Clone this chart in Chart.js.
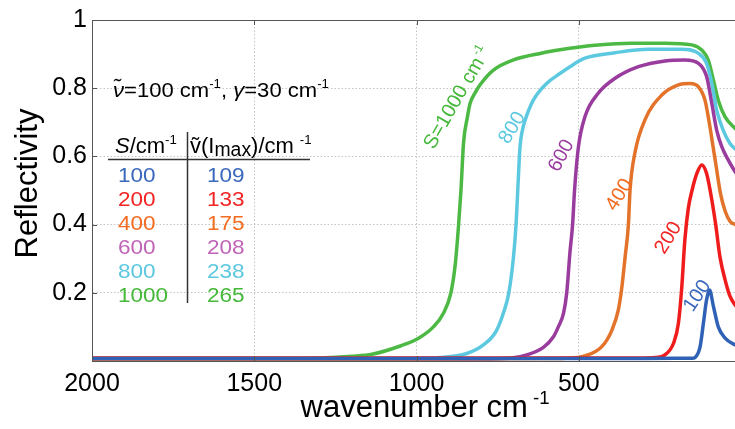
<!DOCTYPE html>
<html><head><meta charset="utf-8">
<script src="https://cdn.jsdelivr.net/npm/chart.js@4.4.0/dist/chart.umd.min.js"></script>
<style>
html,body{margin:0;padding:0;overflow:hidden;background:#fff;width:735px;height:429px;}
#wrap{position:relative;width:760px;height:429px;}
canvas{display:block;}
</style></head>
<body><div id="wrap"><canvas id="c" width="760" height="429"></canvas></div>
<script>
// ---- data ----
const xTicks = [2000, 1500, 1000, 500];
const yTicks = [0.2, 0.4, 0.6, 0.8, 1];
const strengths = ['100', '200', '400', '600', '800', '1000'];
const peakPositions = ['109', '133', '175', '208', '238', '265'];

const wn100 = [2000,1000,400,200,150,142,126,116,106,97,85,70,49,18,5];
const r100  = [0.007,0.007,0.007,0.008,0.008,0.01,0.042,0.11,0.18,0.208,0.16,0.10,0.067,0.047,0.042];

const wn200 = [2000,1000,400,300,265,234,208,193,183,173,162,151,136,121,106,95,78,65,49,34,18,5];
const r200  = [0.009,0.009,0.009,0.009,0.01,0.018,0.052,0.11,0.21,0.355,0.45,0.50,0.55,0.575,0.55,0.50,0.40,0.306,0.238,0.19,0.164,0.15];

const wn400 = [2000,1000,600,542,481,429,398,378,368,357,347,342,327,296,244,193,157,131,111,98,88,78,63,49,34,18,5];
const r400  = [0.006,0.006,0.007,0.008,0.015,0.042,0.09,0.15,0.21,0.306,0.40,0.50,0.61,0.707,0.78,0.81,0.814,0.804,0.765,0.70,0.64,0.58,0.49,0.44,0.41,0.40,0.395];

const wn600 = [2000,800,712,660,609,578,563,547,537,527,519,513,501,481,440,388,316,234,173,131,106,90,75,59,39,18,5];
const r600  = [0.006,0.006,0.008,0.018,0.04,0.071,0.10,0.14,0.20,0.32,0.40,0.50,0.628,0.716,0.785,0.829,0.863,0.88,0.883,0.873,0.834,0.756,0.677,0.628,0.589,0.555,0.54];

const wn800 = [2000,1100,1000,927,845,794,753,729,716,701,693,688,681,674,665,640,599,558,527,481,388,286,183,131,106,90,75,55,34,18,5];
const r800  = [0.007,0.007,0.008,0.01,0.022,0.047,0.09,0.15,0.197,0.306,0.404,0.50,0.628,0.675,0.707,0.765,0.814,0.843,0.863,0.888,0.904,0.914,0.914,0.902,0.873,0.814,0.736,0.677,0.638,0.622,0.615];

const wn1000 = [2000,1500,1300,1200,1137,1050,995,948,917,894,881,871,863,855,843,835,819,804,763,701,619,527,440,337,234,152,121,101,85,70,49,18,5];
const r1000  = [0.007,0.007,0.009,0.014,0.02,0.044,0.066,0.10,0.14,0.20,0.28,0.39,0.50,0.64,0.716,0.755,0.787,0.81,0.853,0.883,0.902,0.917,0.927,0.932,0.932,0.927,0.912,0.883,0.824,0.765,0.716,0.682,0.67];

const lineColors = ['#2f62b6', '#f01c1c', '#e3732a', '#993c9e', '#5cc9e0', '#4cb944'];
const textColors = ['#3a68bd', '#f22424', '#f26c22', '#c064b8', '#5cc8e0', '#46b83a'];

const FONT = '"Liberation Sans", Arial, Helvetica, sans-serif';

function pts(xs, ys) { return xs.map((x, i) => ({ x: x, y: ys[i] })); }
const seriesX = [wn100, wn200, wn400, wn600, wn800, wn1000];
const seriesY = [r100, r200, r400, r600, r800, r1000];

const datasets = strengths.map((s, i) => ({
  label: 'S=' + s,
  data: pts(seriesX[i], seriesY[i]),
  borderColor: lineColors[i],
  borderWidth: 3.5,
  pointRadius: 0,
  fill: false,
  cubicInterpolationMode: 'monotone'
}));

// rich text helpers
function partFont(p, size) {
  let sz = size;
  if (p.s === 'sup') sz = size * 0.6;
  if (p.s === 'sub') sz = size * 0.88;
  return (p.i ? 'italic ' : '') + sz.toFixed(1) + 'px ' + FONT;
}
function richWidth(ctx, parts, size) {
  let w = 0;
  for (const p of parts) { ctx.font = partFont(p, size); w += ctx.measureText(p.t).width + (p.gap || 0); }
  return w;
}
function drawRich(ctx, parts, x, y, size, color, align, sx) {
  sx = sx || 1;
  const w = richWidth(ctx, parts, size);
  let cx = 0;
  if (align === 'center') cx = -w / 2;
  if (align === 'right') cx = -w;
  ctx.save();
  ctx.translate(x, y);
  ctx.scale(sx, 1);
  ctx.fillStyle = color;
  ctx.textBaseline = 'alphabetic';
  ctx.textAlign = 'left';
  for (const p of parts) {
    ctx.font = partFont(p, size);
    cx += (p.gap || 0);
    let dy = 0;
    if (p.s === 'sup') dy = -size * 0.42;
    if (p.s === 'sub') dy = size * 0.15;
    ctx.fillText(p.t, cx, dy);
    cx += ctx.measureText(p.t).width;
  }
  ctx.restore();
}
function drawRotated(ctx, parts, cx, cy, deg, size, color) {
  ctx.save();
  ctx.translate(cx, cy);
  ctx.rotate(deg * Math.PI / 180);
  drawRich(ctx, parts, 0, size * 0.36, size, color, 'center');
  ctx.restore();
}

const decorPlugin = {
  id: 'decor',
  afterDraw(chart) {
    const ctx = chart.ctx;
    const a = chart.chartArea;
    const xs = chart.scales.x, ys = chart.scales.y;
    ctx.save();
    // top frame line
    ctx.strokeStyle = '#555';
    ctx.lineWidth = 1;
    ctx.beginPath();
    ctx.moveTo(a.left, Math.round(a.top) + 0.5);
    ctx.lineTo(a.right, Math.round(a.top) + 0.5);
    ctx.stroke();
    // inward tick marks
    ctx.beginPath();
    xTicks.forEach(v => {
      const px = Math.round(xs.getPixelForValue(v)) + 0.5;
      ctx.moveTo(px, a.bottom); ctx.lineTo(px, a.bottom - 5);
      ctx.moveTo(px, a.top); ctx.lineTo(px, a.top + 5);
    });
    yTicks.forEach(v => {
      const py = Math.round(ys.getPixelForValue(v)) + 0.5;
      ctx.moveTo(a.left, py); ctx.lineTo(a.left + 5, py);
    });
    ctx.stroke();

    // axis titles
    ctx.save();
    ctx.translate(37, 183.5);
    ctx.rotate(-Math.PI / 2);
    drawRich(ctx, [{ t: 'Reflectivity' }], 0, 0, 31, '#000', 'center');
    ctx.restore();
    drawRich(ctx, [{ t: 'wavenumber cm' }, { t: '-1', s: 'sup', gap: 5 }], 425, 417, 31, '#000', 'center');

    // parameter line
    drawRich(ctx, [
      { t: 'ν\u0303', i: true }, { t: '=100 cm' }, { t: '-1', s: 'sup' },
      { t: ', ' }, { t: 'γ', i: true }, { t: '=30 cm' }, { t: '-1', s: 'sup' }
    ], 113, 97, 21, '#000', 'left', 1.05);

    // table header
    drawRich(ctx, [{ t: 'S', i: true }, { t: '/cm' }, { t: '-1', s: 'sup' }], 115, 153, 22, '#000', 'left');
    drawRich(ctx, [{ t: 'v\u0303(I' }, { t: 'max', s: 'sub' }, { t: ')/cm' }, { t: '-1', s: 'sup', gap: 6 }], 190, 153, 22, '#000', 'left');
    ctx.strokeStyle = '#333';
    ctx.lineWidth = 1.5;
    ctx.beginPath();
    ctx.moveTo(108, 159.5); ctx.lineTo(310, 159.5);
    ctx.moveTo(187.5, 132); ctx.lineTo(187.5, 303);
    ctx.stroke();
    const rowBase = [182, 206, 230, 253.5, 277.5, 301.5];
    strengths.forEach((s, i) => {
      drawRich(ctx, [{ t: s }], 118, rowBase[i], 20.5, textColors[i], 'left', 1.1);
      drawRich(ctx, [{ t: peakPositions[i] }], 207, rowBase[i], 20.5, textColors[i], 'left', 1.1);
    });

    // curve labels
    drawRotated(ctx, [{ t: 'S' }, { t: '=1000 cm' }, { t: '-1', s: 'sup', gap: 2 }], 456, 97, -60, 20, textColors[5]);
    drawRotated(ctx, [{ t: '800' }], 511, 127, -58, 20, textColors[4]);
    drawRotated(ctx, [{ t: '600' }], 560, 155, -62, 20, lineColors[3]);
    drawRotated(ctx, [{ t: '400' }], 618, 194, -58, 20, textColors[2]);
    drawRotated(ctx, [{ t: '200' }], 667, 237, -58, 20, textColors[1]);
    drawRotated(ctx, [{ t: '100' }], 696, 295, -56, 20, textColors[0]);
    ctx.restore();
  }
};

new Chart(document.getElementById('c'), {
  type: 'line',
  data: { datasets: datasets },
  options: {
    responsive: false,
    animation: false,
    devicePixelRatio: 1,
    layout: { padding: { top: 20, right: 19, left: 0, bottom: 0 } },
    plugins: { legend: { display: false }, tooltip: { enabled: false } },
    scales: {
      x: {
        type: 'linear', reverse: true, min: 0, max: 2000,
        afterBuildTicks: ax => { ax.ticks = xTicks.map(v => ({ value: v })); },
        afterFit: ax => { ax.height = 68; },
        grid: {
          drawTicks: false, lineWidth: 1,
          color: c => (c.tick && c.tick.value === 2000) ? 'rgba(0,0,0,0)' : '#c4c4c4'
        },
        border: { display: true, color: '#555', width: 1, dash: [1.5, 2] },
        ticks: { padding: 8, color: '#000', font: { family: FONT, size: 25 }, maxRotation: 0,
                 callback: v => String(v) }
      },
      y: {
        type: 'linear', min: 0, max: 1,
        afterBuildTicks: ax => { ax.ticks = yTicks.map(v => ({ value: v })); },
        afterFit: ax => { ax.width = 92; },
        grid: {
          drawTicks: false, lineWidth: 1,
          color: c => (c.tick && c.tick.value === 1) ? 'rgba(0,0,0,0)' : '#c4c4c4'
        },
        border: { display: true, color: '#555', width: 1, dash: [1.5, 2] },
        ticks: { padding: 5, color: '#000', font: { family: FONT, size: 25 },
                 callback: v => (v === 1 ? '1' : v.toFixed(1)) }
      }
    }
  },
  plugins: [decorPlugin]
});
</script>
</body></html>
